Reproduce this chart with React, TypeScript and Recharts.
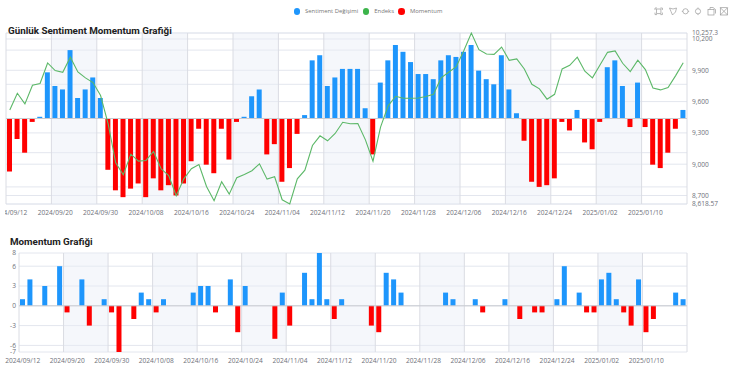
import { Bar, CartesianGrid, Cell, ComposedChart, Line, ReferenceArea, ReferenceLine, XAxis, YAxis } from 'recharts';

const DATES = [
  '2024/09/12', '2024/09/13', '2024/09/16', '2024/09/17', '2024/09/18', '2024/09/19',
  '2024/09/20', '2024/09/23', '2024/09/24', '2024/09/25', '2024/09/26', '2024/09/27',
  '2024/09/30', '2024/10/01', '2024/10/02', '2024/10/03', '2024/10/04', '2024/10/07',
  '2024/10/08', '2024/10/09', '2024/10/10', '2024/10/11', '2024/10/14', '2024/10/15',
  '2024/10/16', '2024/10/17', '2024/10/18', '2024/10/21', '2024/10/22', '2024/10/23',
  '2024/10/24', '2024/10/25', '2024/10/28', '2024/10/30', '2024/10/31', '2024/11/01',
  '2024/11/04', '2024/11/05', '2024/11/06', '2024/11/07', '2024/11/08', '2024/11/11',
  '2024/11/12', '2024/11/13', '2024/11/14', '2024/11/15', '2024/11/18', '2024/11/19',
  '2024/11/20', '2024/11/21', '2024/11/22', '2024/11/25', '2024/11/26', '2024/11/27',
  '2024/11/28', '2024/11/29', '2024/12/02', '2024/12/03', '2024/12/04', '2024/12/05',
  '2024/12/06', '2024/12/09', '2024/12/10', '2024/12/11', '2024/12/12', '2024/12/13',
  '2024/12/16', '2024/12/17', '2024/12/18', '2024/12/19', '2024/12/20', '2024/12/23',
  '2024/12/24', '2024/12/25', '2024/12/26', '2024/12/27', '2024/12/30', '2024/12/31',
  '2025/01/02', '2025/01/03', '2025/01/06', '2025/01/07', '2025/01/08', '2025/01/09',
  '2025/01/10', '2025/01/13', '2025/01/14', '2025/01/15', '2025/01/16', '2025/01/17',
];

const SENTIMENT = [
  -31, -12, -20, -2, 1, 27, 19, 17, 40, 12, 17, 24, 12, -30, -42,
  -46, -41, -38, -46, -35, -42, -39, -45, -38, -25, -6, -27, -32, -6, -24,
  -2, 1, 13, 17, -21, -15, -37, -29, -9, 2, 34, 37, 19, 24, 29,
  29, 29, 6, -21, 21, 34, 43, 39, 33, 26, 26, 23, 34, 37, 36,
  39, 43, 28, 23, 20, 37, 17, 3, -13, -37, -40, -39, -35, -2, -7,
  5, -14, -18, -2, 30, 34, 19, -5, 21, -5, -27, -29, -20, -6, 5,
];

const ENDEKS = [
  9520, 9680, 9578, 9757, 9773, 9970, 9897, 9881, 10025, 9884, 9827, 9782, 9658, 9387, 9013,
  8898, 9096, 9029, 9036, 9122, 8956, 8892, 8697, 8860, 8956, 8997, 8787, 8650, 8831, 8713,
  8870, 8902, 8937, 9004, 8857, 8880, 8659, 8619, 8860, 8943, 9179, 9272, 9224, 9294, 9402,
  9387, 9390, 9233, 9029, 9355, 9559, 9651, 9632, 9632, 9635, 9648, 9670, 9827, 9881, 9935,
  10088, 10257, 10098, 10056, 10053, 10123, 9996, 10009, 9913, 9766, 9722, 9623, 9670, 9913, 9948,
  10025, 9891, 9827, 9951, 10072, 10085, 9967, 9887, 9996, 9906, 9731, 9712, 9734, 9849, 9973,
];

const MOMENTUM = [
  1, 4, 0, 3, 0, 6, -1, 0, 4, -3, 0, 1, -1, -7, 0,
  -2, 2, 1, -1, 1, 0, 0, 0, 2, 3, 3, -1, 0, 4, -4,
  3, 0, 0, 0, -5, 2, -3, 0, 5, 1, 8, 1, -2, 1, 0,
  0, 0, -3, -4, 5, 4, 2, 0, 0, 0, 0, 0, 2, 1, 0,
  0, 1, -1, 0, 0, 1, 0, -2, 0, -1, -1, 0, 1, 6, 0,
  2, -1, -1, 4, 5, 1, -1, -3, 4, -4, -2, 0, 0, 2, 1,
];

const ENDEKS_TICKS = [8618.57, 8700, 9000, 9300, 9600, 9900, 10200, 10257.3];
const SENTIMENT_TICKS = [-40, -20, 0, 20, 40];
const MOMENTUM_TICKS = [-7, -6, -3, 0, 3, 6, 8];
const LEGEND = [
  { name: 'Sentiment Değişimi', color: '#1E96FC' },
  { name: 'Endeks', color: '#3CB44B' },
  { name: 'Momentum', color: '#FF0000' },
];

const BLUE = '#1E96FC';
const RED = '#FF0000';
const GREEN = '#5CB868';
const GRID = '#E3E6EE';
const FONT = '"Open Sans", sans-serif';

const topData = DATES.map((date, i) => ({ date, sentiment: SENTIMENT[i], endeks: ENDEKS[i] }));
const bottomData = DATES.map((date, i) => ({ date, momentum: MOMENTUM[i] }));

// every 6 days there is a tick, every other block is shaded
const shadedStarts = DATES.map((_, i) => i).filter((i) => i % 12 === 6);
const boundaries = DATES.filter((_, i) => i % 6 === 0);

const tickStyle = { fontSize: 6.6, fill: '#6E7079', fontFamily: FONT };
const titleStyle = { position: 'absolute', fontFamily: 'Roboto, sans-serif', fontSize: 9.8, fontWeight: 700, color: '#222', lineHeight: '12px' } as const;

function bands(yAxisId: string) {
  return shadedStarts.map((i) => (
    <ReferenceArea
      key={DATES[i]}
      yAxisId={yAxisId}
      x1={DATES[i]}
      x2={DATES[Math.min(i + 5, DATES.length - 1)]}
      fill="#E9EDF7"
      fillOpacity={0.45}
      stroke="none"
    />
  ));
}

function splitLines(yAxisId: string) {
  const edge = DATES[DATES.length - 1];
  return [
    ...boundaries.map((d) => (
      <ReferenceLine key={d} yAxisId={yAxisId} x={d} position="start" stroke="#DADCE3" />
    )),
    <ReferenceLine key={edge} yAxisId={yAxisId} x={edge} position="end" stroke="#DADCE3" />,
  ];
}

function Toolbox() {
  return (
    <svg width={82} height={14} style={{ position: 'absolute', left: 650, top: 4 }} fill="none" stroke="#9A9A9A" strokeWidth={0.7}>
      <path d="M6.5 5h4.4v4.6h-4.4zM5 4h2M5 4v2M12.4 4h-2M12.4 4v2M5 10.6h2M5 10.6v-2M12.4 10.6h-2M12.4 10.6v-2" />
      <path d="M19.5 4l3.5 1 3.5-1-1 4-3 3-1.5-3.5z" />
      <circle cx={35.5} cy={7.3} r={2.6} />
      <path d="M31.8 7.3h1.2M38 7.3h1.2" />
      <circle cx={48} cy={7.3} r={2.6} />
      <path d="M48 3.5v1.2M48 9.9v1.2" />
      <rect x={58} y={5.5} width={6} height={5.5} />
      <path d="M60 5.5v-2h3l2.5 2v4" />
      <rect x={70.3} y={3.7} width={7.3} height={7.3} />
      <path d="M70.3 3.7l7.3 7.3M77.6 3.7l-7.3 7.3" />
    </svg>
  );
}

export default function App() {
  return (
    <div style={{ position: 'absolute', left: 0, top: 0, width: 735, height: 372, overflow: 'hidden', background: '#fff', fontFamily: FONT }}>
      <div style={{ position: 'absolute', left: 293.5, top: 5, display: 'flex', gap: 4.5, fontSize: 5.9, color: '#777' }}>
        {LEGEND.map((l) => (
          <span key={l.name} style={{ display: 'flex', alignItems: 'center', gap: 5, lineHeight: '13px' }}>
            <span style={{ width: 6.5, height: 6.5, borderRadius: '50%', background: l.color, display: 'inline-block' }} />
            {l.name}
          </span>
        ))}
      </div>
      <Toolbox />
      <div style={{ position: 'absolute', left: 5, top: 0 }}>
        <ComposedChart width={725} height={220} data={topData} margin={{ top: 33, right: 0, bottom: 0, left: 1 }} barCategoryGap={0}>
          {bands('left')}
          <CartesianGrid yAxisId="left" vertical={false} stroke={GRID} />
          <CartesianGrid yAxisId="right" vertical={false} stroke={GRID} />
          {splitLines('left')}
          <XAxis dataKey="date" interval={5} height={16} tickLine={false} axisLine={false} tick={tickStyle} tickMargin={0} />
          <YAxis yAxisId="left" hide domain={[-50, 50]} ticks={SENTIMENT_TICKS} />
          <YAxis
            yAxisId="right"
            orientation="right"
            width={43}
            domain={[8618.57, 10257.3]}
            ticks={ENDEKS_TICKS}
            interval={0}
            tickLine={false}
            axisLine={false}
            tickSize={3}
            tickMargin={2}
            tick={tickStyle}
            tickFormatter={(v: number) => v.toLocaleString('en-US')}
          />
          <ReferenceLine yAxisId="left" y={0} stroke="#C8CAD0" />
          <Bar yAxisId="left" dataKey="sentiment" barSize={5} isAnimationActive={false}>
            {SENTIMENT.map((v, i) => (
              <Cell key={DATES[i]} fill={v < 0 ? RED : BLUE} />
            ))}
          </Bar>
          <Line yAxisId="right" dataKey="endeks" type="linear" stroke={GREEN} strokeWidth={1.1} dot={false} isAnimationActive={false} />
        </ComposedChart>
      </div>
      <div style={{ ...titleStyle, left: 8, top: 25 }}>Günlük Sentiment Momentum Grafiği</div>
      <div style={{ position: 'absolute', left: 0, top: 240 }}>
        <ComposedChart width={735} height={128} data={bottomData} margin={{ top: 13, right: 48, bottom: 0, left: 0 }} barCategoryGap={0}>
          {bands('left')}
          <CartesianGrid yAxisId="left" vertical={false} stroke={GRID} />
          {splitLines('left')}
          <XAxis dataKey="date" interval={5} height={16} tickLine={false} axisLine={false} tick={tickStyle} tickMargin={0} />
          <YAxis
            yAxisId="left"
            width={19}
            domain={[-7, 8]}
            ticks={MOMENTUM_TICKS}
            interval={0}
            tickLine={false}
            axisLine={false}
            tickSize={1}
            tickMargin={2}
            tick={tickStyle}
          />
          <ReferenceLine yAxisId="left" y={0} stroke="#C8CAD0" />
          <Bar yAxisId="left" dataKey="momentum" barSize={5} isAnimationActive={false}>
            {MOMENTUM.map((v, i) => (
              <Cell key={DATES[i]} fill={v < 0 ? RED : BLUE} />
            ))}
          </Bar>
        </ComposedChart>
      </div>
      <div style={{ ...titleStyle, left: 10, top: 236 }}>Momentum Grafiği</div>
    </div>
  );
}
